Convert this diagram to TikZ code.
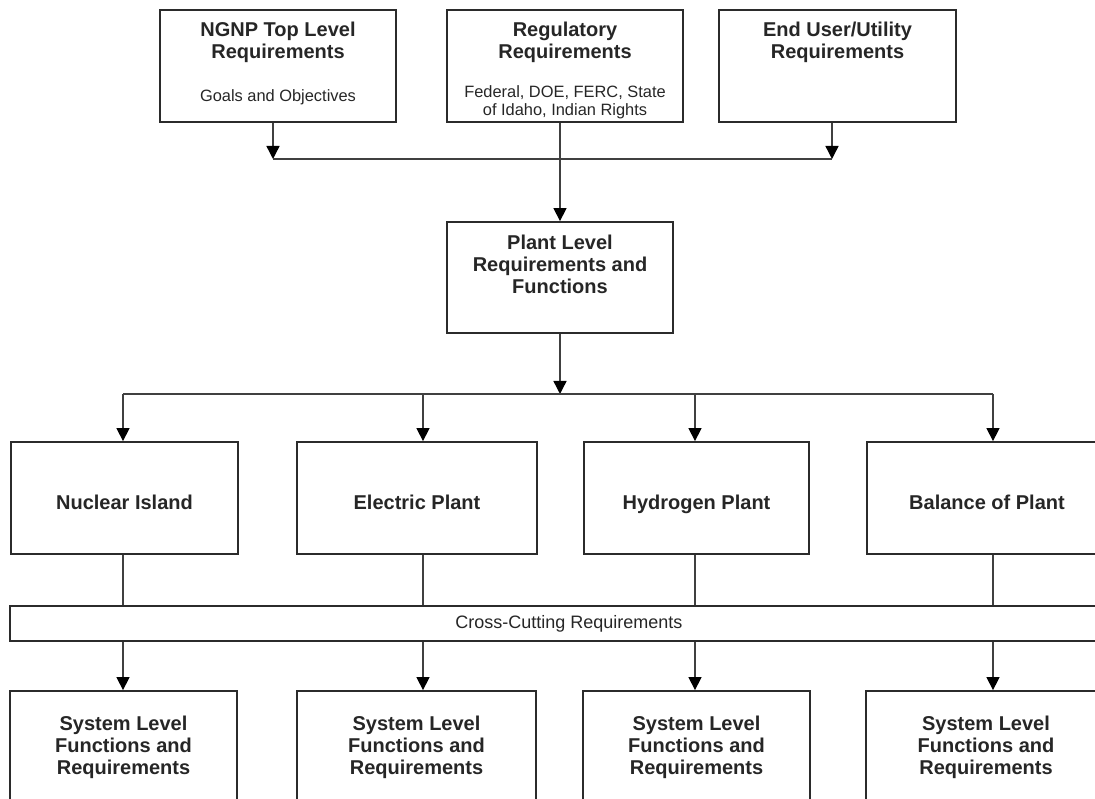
\documentclass[tikz,border=0pt]{standalone}
\usepackage{fontspec}
\setmainfont{Liberation Sans}
\usetikzlibrary{arrows.meta}

\definecolor{boxgray}{HTML}{2B2B2B}
\definecolor{linegray}{HTML}{404040}
\definecolor{txt}{HTML}{262626}

\tikzset{
  box/.style={draw=boxgray, line width=1.8pt, inner sep=0pt},
  head/.style={font=\bfseries\fontsize{20}{22}\selectfont, align=center, text=txt, inner sep=0pt},
  note/.style={font=\fontsize{16.4}{18}\selectfont, align=center, text=txt, inner sep=0pt},
  area/.style={box, head, minimum height=112pt, text height=26pt, text depth=4pt},
  link/.style={draw=linegray, line width=1.4pt},
  arr/.style={link, -{Triangle[length=13pt,width=13pt,color=black]}},
}

\begin{document}
\begin{tikzpicture}[x=1pt,y=-1pt]
\useasboundingbox (0,0) rectangle (1095,799);
\clip (0,0) rectangle (1095,799);

% top level sources
\node[box, minimum width=236pt, minimum height=112pt] (ngnp) at (278,66) {};
\node[box, minimum width=236pt, minimum height=112pt] (reg) at (565,66) {};
\node[box, minimum width=237pt, minimum height=112pt] (endu) at (837.5,66) {};
\node[head] (ngnp-t) at (278,42.5) {NGNP Top Level\\Requirements};
\node[note] (ngnp-n) at (278,97) {Goals and Objectives};
\node[head] (reg-t) at (565,42.5) {Regulatory\\Requirements};
\node[note] (reg-n) at (565,102) {Federal, DOE, FERC, State\\of Idaho, Indian Rights};
\node[head] (endu-t) at (837.5,42.5) {End User/Utility\\Requirements};

% plant level
\node[box, minimum width=226pt, minimum height=111pt] (plant) at (560,277.5) {};
\node[head] (plant-t) at (560,264.5) {Plant Level\\Requirements and\\Functions};

% plant areas
\node[area, minimum width=227pt] (nuc) at (124.5,498) {Nuclear Island};
\node[area, minimum width=240pt] (ele) at (417,498) {Electric Plant};
\node[area, minimum width=225pt] (hyd) at (696.5,498) {Hydrogen Plant};
\node[area, minimum width=240pt] (bop) at (987,498) {Balance of Plant};

\node[box, note, font=\fontsize{18}{20}\selectfont, minimum width=1118pt, minimum height=35pt] (xcut) at (569,623.5) {Cross-Cutting Requirements};

% system level
\node[box, minimum width=227pt, minimum height=130pt] (sys1) at (123.5,756) {};
\node[box, minimum width=239pt, minimum height=130pt] (sys2) at (416.5,756) {};
\node[box, minimum width=227pt, minimum height=130pt] (sys3) at (696.5,756) {};
\node[box, minimum width=240pt, minimum height=130pt] (sys4) at (986,756) {};
\node[head] (sys1-t) at (123.5,747) {System Level\\Functions and\\Requirements};
\node[head] (sys2-t) at (416.5,747) {System Level\\Functions and\\Requirements};
\node[head] (sys3-t) at (696.5,747) {System Level\\Functions and\\Requirements};
\node[head] (sys4-t) at (986,747) {System Level\\Functions and\\Requirements};

% bars
\coordinate (top-l) at (273,159);
\coordinate (top-r) at (832,159);
\coordinate (hub) at (560,394);
\coordinate (bar-1) at (123,394);
\coordinate (bar-2) at (423,394);
\coordinate (bar-3) at (695,394);
\coordinate (bar-4) at (993,394);

\draw[arr] (ngnp.south -| top-l) -- (top-l);
\draw[arr] (endu.south -| top-r) -- (top-r);
\draw[link] (top-l) -- (top-r);
\draw[arr] (reg.south -| plant.north) -- (plant.north);

\draw[arr] (plant.south) -- (hub);
\draw[link] (bar-1) -- (bar-4);
\draw[arr] (bar-1) -- (nuc.north -| bar-1);
\draw[arr] (bar-2) -- (ele.north -| bar-2);
\draw[arr] (bar-3) -- (hyd.north -| bar-3);
\draw[arr] (bar-4) -- (bop.north -| bar-4);

\draw[link] (nuc.south -| bar-1) -- (xcut.north -| bar-1);
\draw[link] (ele.south -| bar-2) -- (xcut.north -| bar-2);
\draw[link] (hyd.south -| bar-3) -- (xcut.north -| bar-3);
\draw[link] (bop.south -| bar-4) -- (xcut.north -| bar-4);

\draw[arr] (xcut.south -| bar-1) -- (sys1.north -| bar-1);
\draw[arr] (xcut.south -| bar-2) -- (sys2.north -| bar-2);
\draw[arr] (xcut.south -| bar-3) -- (sys3.north -| bar-3);
\draw[arr] (xcut.south -| bar-4) -- (sys4.north -| bar-4);
\end{tikzpicture}
\end{document}
